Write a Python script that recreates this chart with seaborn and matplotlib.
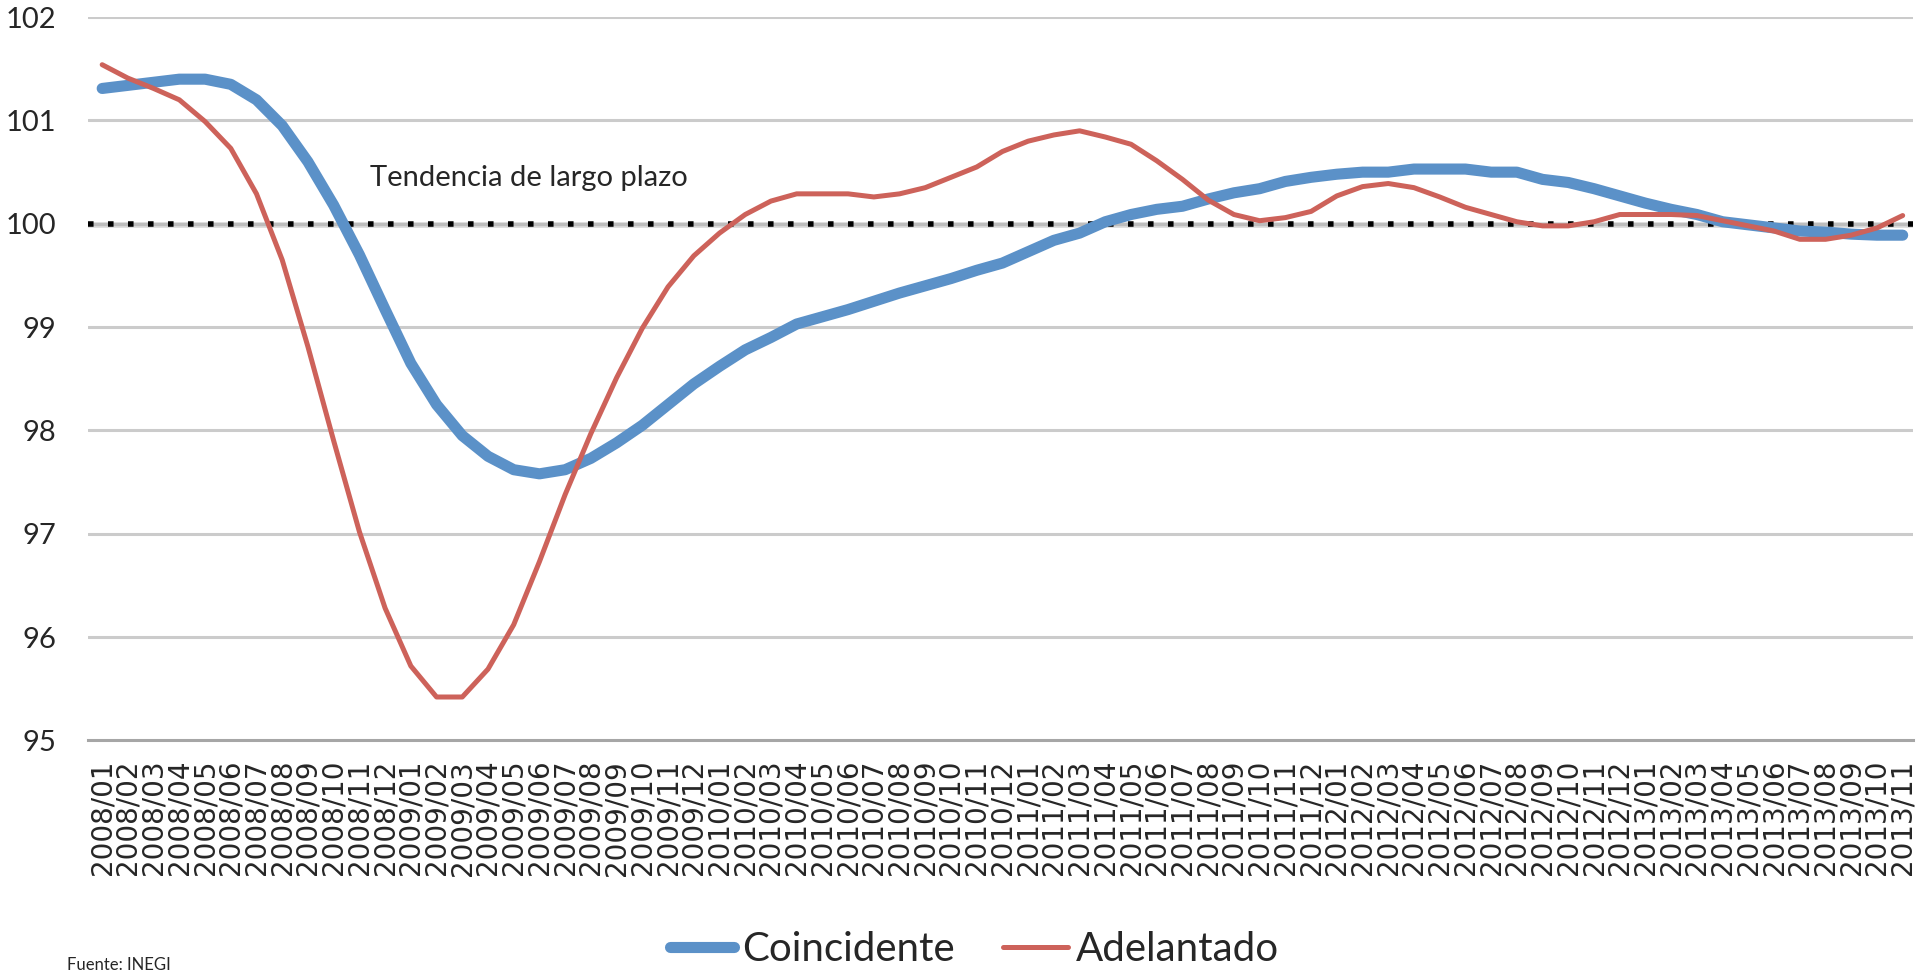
import matplotlib
matplotlib.use("Agg")
import matplotlib.pyplot as plt
import numpy as np
import pandas as pd
import seaborn as sns

# monthly labels 2008/01 .. 2013/11
months = [f"{y}/{m:02d}" for y in range(2008, 2014) for m in range(1, 13)][:71]

coincidente = [
    101.31, 101.34, 101.37, 101.40, 101.40, 101.35, 101.20, 100.95, 100.60, 100.18,
    99.70, 99.17, 98.65, 98.25, 97.95, 97.75, 97.62, 97.58, 97.62, 97.73,
    97.88, 98.05, 98.25, 98.45, 98.62, 98.78, 98.90, 99.03, 99.10, 99.17,
    99.25, 99.33, 99.40, 99.47, 99.55, 99.62, 99.73, 99.84, 99.91, 100.02,
    100.09, 100.14, 100.17, 100.24, 100.30, 100.34, 100.41, 100.45, 100.48, 100.50,
    100.50, 100.53, 100.53, 100.53, 100.50, 100.50, 100.43, 100.40, 100.34, 100.27,
    100.20, 100.14, 100.09, 100.02, 99.99, 99.96, 99.93, 99.92, 99.90, 99.89,
    99.89,
]

adelantado = [
    101.54, 101.41, 101.31, 101.20, 100.99, 100.73, 100.29, 99.65, 98.81, 97.90,
    97.02, 96.28, 95.72, 95.42, 95.42, 95.69, 96.12, 96.73, 97.38, 97.97,
    98.51, 98.99, 99.39, 99.69, 99.91, 100.09, 100.22, 100.29, 100.29, 100.29,
    100.26, 100.29, 100.35, 100.45, 100.55, 100.70, 100.80, 100.86, 100.90, 100.84,
    100.77, 100.61, 100.43, 100.23, 100.09, 100.03, 100.06, 100.12, 100.27, 100.36,
    100.39, 100.35, 100.26, 100.16, 100.09, 100.02, 99.98, 99.98, 100.02, 100.09,
    100.09, 100.09, 100.08, 100.03, 99.98, 99.93, 99.85, 99.85, 99.89, 99.96,
    100.08,
]

trend_level = 100
y_ticks = [95, 96, 97, 98, 99, 100, 101, 102]

df = pd.DataFrame({
    "idx": np.arange(len(months)),
    "Coincidente": coincidente,
    "Adelantado": adelantado,
})

sns.set_style("white")
plt.rcParams["font.family"] = ["Lato", "DejaVu Sans"]

fig = plt.figure(figsize=(19.22, 9.76), dpi=100)
ax = fig.add_axes([0.0458, 0.2414, 0.9495, 0.741])

for y in y_ticks[1:]:
    ax.axhline(y, color="#cbcbcb", lw=2.2, zorder=0)

# soft shadow under the trend line, then the dotted line itself
ax.axhline(trend_level - 0.015, color="#b0b0b0", lw=4, alpha=0.5, zorder=1)
ax.axhline(trend_level, color="black", lw=4, linestyle=(0, (1, 2.6)), zorder=1)

sns.lineplot(data=df, x="idx", y="Coincidente", ax=ax, color="#5b91c8",
             lw=8, label="Coincidente", legend=False, zorder=2,
             solid_capstyle="round", solid_joinstyle="round")
sns.lineplot(data=df, x="idx", y="Adelantado", ax=ax, color="#cd625a",
             lw=3.6, label="Adelantado", legend=False, zorder=3,
             solid_joinstyle="round")

ax.set_xlim(-0.55, 70.4)
ax.set_ylim(95, 102)
ax.set_yticks(y_ticks)
ax.set_yticklabels([str(v) for v in y_ticks], fontsize=21)
ax.set_xticks(df["idx"])
ax.set_xticklabels(months, rotation=90, fontsize=20, family="DejaVu Sans")
ax.tick_params(axis="x", length=0, pad=14)
ax.tick_params(axis="y", length=0, pad=23)
ax.set_xlabel("")
ax.set_ylabel("")

for side in ["top", "right", "left"]:
    ax.spines[side].set_visible(False)
ax.spines["bottom"].set_color("#a6a6a6")
ax.spines["bottom"].set_linewidth(2.2)

ax.text(10.4, 100.44, "Tendencia de largo plazo", fontsize=21, va="center", ha="left")

handles, labels = ax.get_legend_handles_labels()
fig.legend(handles, labels, loc="lower center", bbox_to_anchor=(0.507, 0.0),
           ncol=2, frameon=False, fontsize=29, handlelength=1.6,
           columnspacing=1.2, handletextpad=0.2, borderaxespad=0.1,
           borderpad=0.1)

fig.text(67 / 1922, 0.003, "Fuente: INEGI", fontsize=12, va="bottom", ha="left")

fig.savefig("out.png", dpi=100)
